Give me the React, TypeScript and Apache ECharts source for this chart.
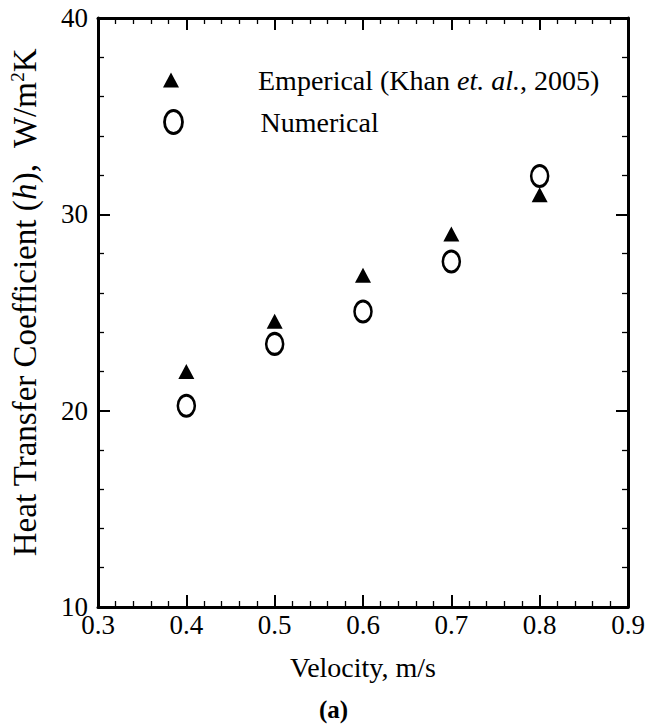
import React, { useEffect, useRef } from "react";
import * as echarts from "echarts";

const velocity = [0.4, 0.5, 0.6, 0.7, 0.8];
const empirical = [22.0, 24.55, 26.9, 29.0, 31.0];
const numerical = [20.25, 23.4, 25.05, 27.6, 31.95];
const xTicks = { min: 0.3, max: 0.9, interval: 0.1 };
const yTicks = { min: 10, max: 40, interval: 10 };
const seriesNames = ["Emperical (Khan et. al., 2005)", "Numerical"];

const FONT = "'Liberation Serif', 'Times New Roman', Times, serif";
const ELLIPSE = "path://M0,12 A9,12 0 1,1 18,12 A9,12 0 1,1 0,12 Z";

export default function App() {
  const ref = useRef<HTMLDivElement>(null);
  useEffect(() => {
    if (!ref.current) return;
    const chart = echarts.init(ref.current, null, { renderer: "svg" });
    const axisLine = { show: true, onZero: false, lineStyle: { color: "#000", width: 3 } };
    const tick = { show: true, inside: true, length: 12, lineStyle: { color: "#000", width: 2 } };
    const minor = { show: true, splitNumber: 5, length: 6, lineStyle: { color: "#000", width: 1.3 } };
    const label = { color: "#000", fontFamily: FONT, fontSize: 27 };
    chart.setOption({
      animation: false,
      backgroundColor: "#fff",
      textStyle: { fontFamily: FONT },
      grid: { left: 95, right: 31, top: 18, bottom: 121, containLabel: false },
      xAxis: [
        {
          type: "value", ...xTicks, position: "bottom",
          axisLine, axisTick: tick, minorTick: minor, splitLine: { show: false },
          axisLabel: { ...label, margin: 4, formatter: (v: number) => v.toFixed(1) },
          name: "Velocity, m/s", nameLocation: "middle", nameGap: 46,
          nameTextStyle: { color: "#000", fontFamily: FONT, fontSize: 28 },
        },
        {
          type: "value", ...xTicks, position: "top",
          axisLine, axisTick: tick, minorTick: minor, splitLine: { show: false },
          axisLabel: { show: false },
        },
      ],
      yAxis: [
        {
          type: "value", ...yTicks, position: "left",
          axisLine, axisTick: tick, minorTick: minor, splitLine: { show: false },
          axisLabel: { ...label, margin: 10 },
          name: "Heat Transfer Coefficient ({i|h}),  W/m{s|2}K",
          nameLocation: "middle", nameGap: 57, nameRotate: 90,
          nameTextStyle: {
            color: "#000", fontFamily: FONT, fontSize: 33, padding: [0, 0, 0, 20],
            rich: {
              i: { fontStyle: "italic", fontFamily: FONT, fontSize: 33, color: "#000" },
              s: { fontFamily: FONT, fontSize: 19, color: "#000", verticalAlign: "top", lineHeight: 33, padding: [0, 0, 13, 0] },
            },
          },
        },
        {
          type: "value", ...yTicks, position: "right",
          axisLine, axisTick: tick, minorTick: minor, splitLine: { show: false },
          axisLabel: { show: false },
        },
      ],
      legend: [
        {
          data: [{ name: seriesNames[0], icon: "triangle" }],
          left: 163, top: 65, padding: 0, itemWidth: 16, itemHeight: 15,
          symbolKeepAspect: false,
          itemStyle: { color: "#000" },
          formatter: () => "{n|Emperical (Khan }{i|et. al.}{n|, 2005)}",
          textStyle: {
            color: "#000", fontFamily: FONT, fontSize: 28, lineHeight: 30, padding: [0, 0, 0, 74],
            rich: {
              n: { fontFamily: FONT, fontSize: 28, color: "#000" },
              i: { fontFamily: FONT, fontSize: 28, color: "#000", fontStyle: "italic" },
            },
          },
        },
        {
          data: [{ name: seriesNames[1], icon: ELLIPSE }],
          left: 162, top: 107, padding: 0, itemWidth: 18, itemHeight: 23,
          symbolKeepAspect: false,
          itemStyle: { color: "none", borderColor: "#000", borderWidth: 2.8 },
          textStyle: { color: "#000", fontFamily: FONT, fontSize: 28, lineHeight: 30, padding: [0, 0, 0, 73] },
        },
      ],
      series: [
        {
          name: seriesNames[0], type: "scatter", xAxisIndex: 0, yAxisIndex: 0,
          symbol: "triangle", symbolSize: [16, 15],
          itemStyle: { color: "#000", opacity: 1 },
          data: velocity.map((v, i) => [v, empirical[i]]),
          z: 3,
        },
        {
          name: seriesNames[1], type: "scatter", xAxisIndex: 0, yAxisIndex: 0,
          symbol: ELLIPSE, symbolSize: [17, 21], symbolKeepAspect: false,
          itemStyle: { color: "none", borderColor: "#000", borderWidth: 2.8, opacity: 1 },
          data: velocity.map((v, i) => [v, numerical[i]]),
          z: 2,
        },
      ],
      graphic: [
        {
          type: "text", left: 319, top: 697,
          style: { text: "(a)", font: `bold 25px ${FONT}`, fill: "#000" },
        },
      ],
    });
    return () => chart.dispose();
  }, []);
  return (
    <div
      ref={ref}
      style={{ position: "absolute", left: 0, top: 0, width: 659, height: 728 }}
    />
  );
}
